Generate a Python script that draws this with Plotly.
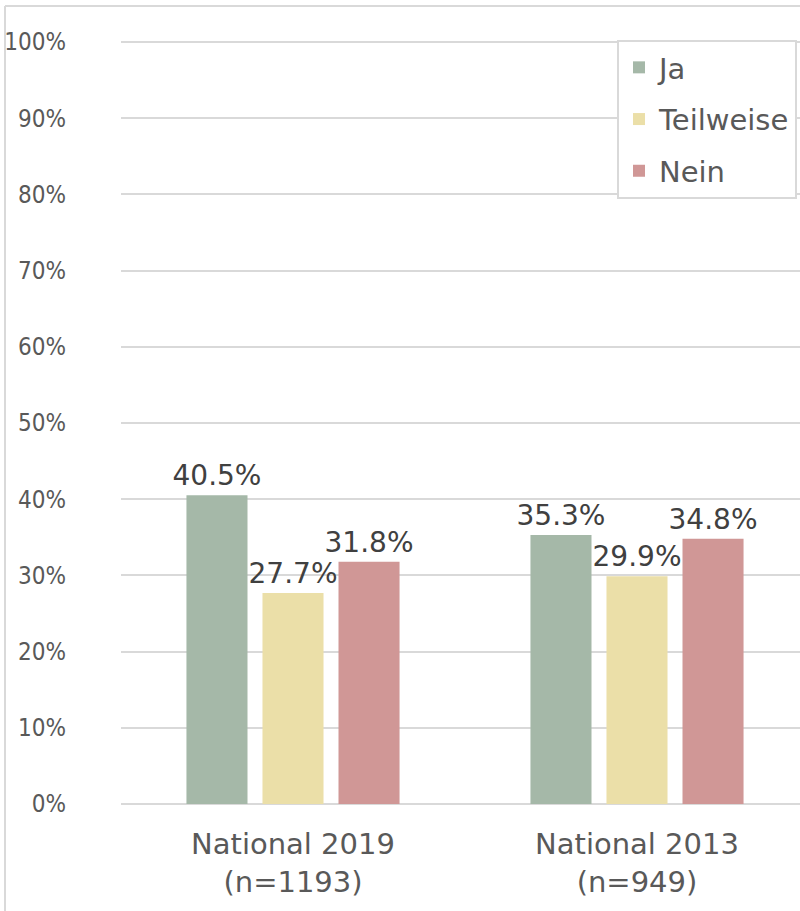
import plotly.graph_objects as go

categories = ["National 2019<br>(n=1193)", "National 2013<br>(n=949)"]
series_names = ["Ja", "Teilweise", "Nein"]
ja = [40.5, 35.3]
teilweise = [27.7, 29.9]
nein = [31.8, 34.8]
colors = ["#a5b8a8", "#ebdfa8", "#d09796"]
y_ticks = [0, 10, 20, 30, 40, 50, 60, 70, 80, 90, 100]

fig = go.Figure()
for name, vals, col in zip(series_names, [ja, teilweise, nein], colors):
    fig.add_trace(go.Bar(
        name=name, x=categories, y=vals, legendgroup=name,
        marker=dict(color=col, line=dict(width=0)),
        text=[f"{v:.1f}%" for v in vals],
        textposition="outside",
        textfont=dict(family="DejaVu Sans", size=28, color="#404040"),
        constraintext="none",
        cliponaxis=False,
    ))

W, H = 800, 911
L, R, T, B = 121, 0, 40, 107
pw = W - L - R
ph = H - T - B

fig.update_layout(
    width=W, height=H,
    margin=dict(l=L, r=R, t=T, b=B, autoexpand=False),
    paper_bgcolor="white", plot_bgcolor="white",
    barmode="group", bargap=0.337, bargroupgap=0.197,
    showlegend=True,
    legend=dict(
        x=(617 - L) / pw, y=1, xanchor="left", yanchor="top",
        bordercolor="#d9d9d9", borderwidth=2, bgcolor="white",
        font=dict(family="DejaVu Sans", size=29, color="#595959"),
        traceorder="grouped", tracegroupgap=11,
        itemwidth=30,
    ),
    xaxis=dict(
        range=[-0.5, -0.5 + pw / 344.0],
        showline=False, ticks="", showgrid=False, automargin=False,
        ticklabelstandoff=20,
        tickfont=dict(family="DejaVu Sans", size=29, color="#595959"),
    ),
    yaxis=dict(
        range=[0, 100.25], tickvals=y_ticks, ticktext=[f"{v}%" for v in y_ticks],
        showgrid=True, gridcolor="#d9d9d9", gridwidth=2,
        zeroline=True, zerolinecolor="#d9d9d9", zerolinewidth=2,
        showline=False, ticks="", automargin=False,
        ticklabelstandoff=54,
        tickfont=dict(family="Liberation Sans Narrow, DejaVu Sans Condensed, Liberation Sans", size=24, color="#595959"),
    ),
)

# chart-area border (left and top edges visible)
bx = (5 - L) / pw
by = 1 + (T - 6) / ph
fig.add_shape(type="line", xref="paper", yref="paper", x0=bx, x1=bx, y0=by, y1=-B / ph - 0.01,
              line=dict(color="#d9d9d9", width=2))
fig.add_shape(type="line", xref="paper", yref="paper", x0=bx, x1=1.01, y0=by, y1=by,
              line=dict(color="#d9d9d9", width=2))

fig.write_html(
    "out.html",
    config={"displayModeBar": False},
    post_script="document.body.style.margin='0';document.body.style.padding='0';document.documentElement.style.overflow='hidden';",
)
